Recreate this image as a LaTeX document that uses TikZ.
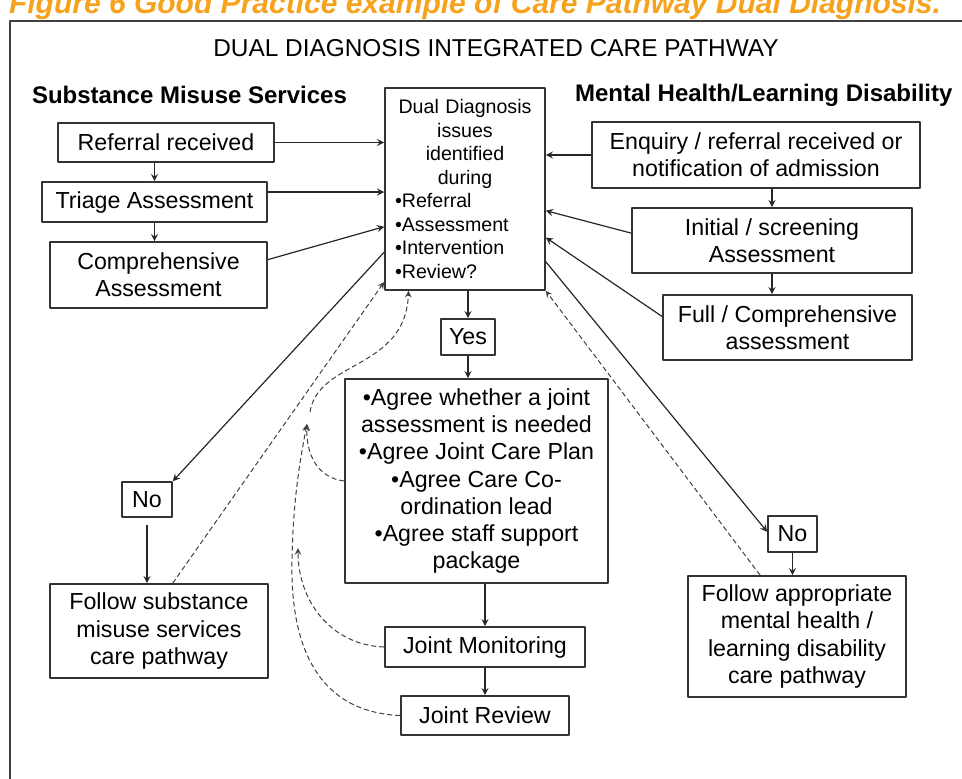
\documentclass[tikz,border=0pt]{standalone}
\usepackage{fontspec}
\setmainfont{Liberation Sans}
\usetikzlibrary{arrows}
\definecolor{capcolor}{RGB}{247,162,28}

\begin{document}
\begin{tikzpicture}[x=0.5pt, y=-0.5pt, line join=round, >=stealth,
	box/.style={draw=black!80, line width=0.8pt, inner sep=0pt, align=center, font=\fontsize{11.6}{13.6}\selectfont},
	head/.style={anchor=west, font=\bfseries\fontsize{12}{14}\selectfont},
	link/.style={->, line width=0.6pt, black!85},
	back/.style={->, line width=0.5pt, black!75, dash pattern=on 2.5pt off 1.5pt}]
	\useasboundingbox (0,0) rectangle (962,778);
	\clip (0,0) rectangle (962,778);
	% frame and titles
	\draw[line width=0.8pt, black!75] (10,800) -- (10,21) -- (980,21);
	\node[anchor=base west, text=capcolor, font=\bfseries\itshape\fontsize{15}{15}\selectfont] (cap) at (2,13) {Figure 6 Good Practice example of Care Pathway Dual Diagnosis.};
	\node[font=\fontsize{12.2}{14}\selectfont] (title) at (496,48) {DUAL DIAGNOSIS INTEGRATED CARE PATHWAY};
	\node[head] (sms) at (25,95) {Substance Misuse Services};
	\node[head] (mhld) at (568,95) {Mental Health/Learning Disability};
	% substance misuse side
	\node[box, minimum width=108pt, minimum height=19.5pt] (ref) at (166,142.5) {Referral received};
	\node[box, minimum width=112.5pt, minimum height=20pt] (tri) at (154.5,202) {Triage Assessment};
	\node[box, minimum width=108.5pt, minimum height=33pt] (comp) at (158.5,275) {Comprehensive\\Assessment};
	% centre
	\node[box, minimum width=80pt, minimum height=101pt, text width=70pt, align=left, font=\fontsize{9.8}{11.75}\selectfont] (dd) at (465,189)
		{\hfil Dual Diagnosis\\ \hfil issues\\ \hfil identified\\ \hfil during\\ •Referral\\ •Assessment\\ •Intervention\\ •Review?};
	% mental health side
	\node[box, minimum width=164pt, minimum height=33pt] (enq) at (756,155) {Enquiry / referral received or\\notification of admission};
	\node[box, minimum width=140pt, minimum height=32.5pt] (ini) at (772,240.5) {Initial / screening\\Assessment};
	\node[box, minimum width=124.5pt, minimum height=32.5pt] (full) at (787.5,327.5) {Full / Comprehensive\\assessment};
	% joint work
	\node[box, minimum width=27pt, minimum height=18pt] (yes) at (468,337) {Yes};
	\node[box, minimum width=131.5pt, minimum height=102pt] (agree) at (476.5,481)
		{•Agree whether a joint\\assessment is needed\\•Agree Joint Care Plan\\•Agree Care Co-\\ordination lead\\•Agree staff support\\package};
	\node[box, minimum width=100pt, minimum height=20pt] (jm) at (485,647) {Joint Monitoring};
	\node[box, minimum width=84pt, minimum height=19.5pt] (jr) at (485,715.5) {Joint Review};
	% no branches
	\node[box, minimum width=25pt, minimum height=17.5pt] (nol) at (147,499.5) {No};
	\node[box, minimum width=109pt, minimum height=47pt] (fsub) at (159,631) {Follow substance\\misuse services\\care pathway};
	\node[box, minimum width=24.5pt, minimum height=18pt] (nor) at (792.5,534) {No};
	\node[box, minimum width=109pt, minimum height=60.5pt] (fapp) at (797,636.5) {Follow appropriate\\mental health /\\learning disability\\care pathway};
	% solid links
	\draw[link] (ref.south -| tri.north) -- (tri.north);
	\draw[link] (tri.south) -- (tri.south |- comp.north);
	\draw[link] (ref.east) -- (ref.east -| dd.west);
	\draw[link] (tri.5) -- (tri.5 -| dd.west);
	\draw[link] (comp.8) -- (dd.205);
	\draw[link] (enq.south -| ini.north) -- (ini.north);
	\draw[link] (ini.south) -- (ini.south |- full.north);
	\draw[link] (enq.west) -- (enq.west -| dd.east);
	\draw[link] (ini.177) -- (dd.345);
	\draw[link] (full.175) -- (dd.329);
	\draw[link] (yes.north |- dd.south) -- (yes.north);
	\draw[link] (yes.south) -- (yes.south |- agree.north);
	\draw[link] (jm.north |- agree.south) -- (jm.north);
	\draw[link] (jm.south) -- (jm.south |- jr.north);
	\draw[link] (dd.218) -- (nol.north east);
	\draw[link] (dd.318) -- (nor.175);
	\draw[link, shorten <=3.5pt] (nol.south) -- (nol.south |- fsub.north);
	\draw[link] (nor.south) -- (nor.south |- fapp.north);
	% dashed feedback
	\coordinate (a1) at (307,424);
	\coordinate (a2) at (310,412);
	\coordinate (m1) at (298,548);
	\draw[back] (fsub.74) -- (dd.229);
	\draw[back] (fapp.121) -- (dd.south east);
	\draw[back] (agree.west) .. controls (318,478) and (306,455) .. (a1);
	\draw[back] (a2) .. controls (318,360) and (405,370) .. (dd.241);
	\draw[back] (jm.west) .. controls (330,645) and (298,600) .. (m1);
	\draw[back] (jr.west) .. controls (320,712) and (290,650) .. (292,560) .. controls (293,500) and (300,460) .. (a1);
\end{tikzpicture}
\end{document}
